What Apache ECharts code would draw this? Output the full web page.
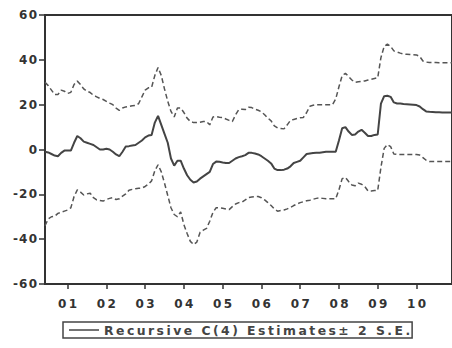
<!DOCTYPE html>
<html>
<head>
<meta charset="utf-8">
<script src="https://cdn.jsdelivr.net/npm/echarts@6/dist/echarts.min.js"></script>
<style>
  html, body { margin: 0; padding: 0; background: #ffffff; }
  #chart { width: 452px; height: 348px; }
</style>
</head>
<body>
<div id="chart"></div>
<script>
// Monthly periods, 2000M06 .. 2010M12
const startYear = 2000, startMonth = 6, periodCount = 127;
const periods = [];
for (let k = 0; k < periodCount; k++) {
  const m = startMonth - 1 + k;
  const y = startYear + Math.floor(m / 12);
  const mm = (m % 12) + 1;
  periods.push(y + 'M' + (mm < 10 ? '0' + mm : '' + mm));
}

// Recursive estimate of coefficient C(4)
const estimate = [
  -1, -1.3, -2, -2.7, -3, -1.5, -0.5, -0.5, -0.5, 3,
  6, 5, 3.5, 3, 2.5, 2, 1, 0, 0, 0.3,
  0, -1, -2.2, -3, -1, 1.3, 1.5, 1.8, 2, 3,
  4, 5.4, 6.2, 6.5, 12, 15, 11, 7, 3, -4,
  -7.2, -5, -5, -8.5, -11.5, -13.5, -14.7, -14.3, -13, -12,
  -11, -10, -6.5, -5.4, -5.5, -5.8, -6, -6, -5, -4,
  -3.4, -3, -2.5, -1.5, -1.5, -1.8, -2.2, -3, -4, -5,
  -6.2, -8.5, -9.2, -9.2, -9, -8.5, -7.5, -6, -5.5, -5,
  -3.5, -2, -1.8, -1.6, -1.5, -1.4, -1.2, -1, -1, -1,
  -1, 4, 9.5, 10, 8, 6.5, 6.7, 8, 8.8, 7.5,
  6, 6, 6.5, 6.7, 20.5, 23.8, 24, 23.5, 21, 20.5,
  20.5, 20.3, 20.2, 20.1, 20, 19.8, 19.2, 18, 17, 16.8,
  16.7, 16.6, 16.6, 16.5, 16.5, 16.5, 16.5
];

// Upper band: estimate + 2 S.E.
const upperBand = [
  30, 28.5, 26.5, 24.5, 24.5, 26.5, 26, 25, 25.5, 29,
  30.5, 29, 27, 26, 25.4, 24.2, 23.5, 22.8, 22.3, 21.5,
  20.7, 20, 18.5, 17.5, 18.5, 19, 19.2, 19.5, 19.6, 20.5,
  23.5, 26.5, 27.5, 27.7, 33, 36.6, 33, 27, 21.5, 17,
  14.5, 18.5, 18.5, 16.5, 14, 12.5, 12, 12, 12.2, 12.5,
  12.5, 11, 14.5, 14.7, 14.4, 14.3, 13.6, 13, 12.5, 15.5,
  17.8, 18, 17.8, 18.8, 18.7, 18, 17.5, 16.8, 15.5, 14,
  12.8, 10.5, 9.6, 9.4, 9.2, 11, 13, 13.4, 13.8, 14.2,
  14.3, 16.5, 19.3, 19.7, 20, 20, 20, 20, 20, 20,
  22.5, 28, 33, 34, 32.5, 31, 30, 30.2, 30.4, 30.6,
  31, 31.3, 31.7, 32, 41, 46, 47, 46, 44, 43.5,
  43, 42.6, 42.5, 42.4, 42.3, 42.2, 41.5, 39.5, 39, 38.8,
  38.8, 38.8, 38.7, 38.7, 38.7, 38.7, 38.7
];

// Lower band: estimate - 2 S.E.
const lowerBand = [
  -34, -31, -30, -29.8, -28.5, -28, -27.5, -27, -26, -21,
  -18, -19, -20.3, -19.8, -19.5, -21.5, -22.5, -22.8, -23, -22.3,
  -21.8, -21.5, -22.3, -22, -20.8, -19.8, -18.2, -17.8, -17.5, -17.3,
  -17.2, -16.5, -15.5, -14, -9.5, -6.8, -10, -15, -20.5, -26,
  -29, -30, -27.8, -33.5, -37.5, -41, -42.4, -41.3, -37, -36,
  -35.2, -32, -28, -26, -26, -26.2, -26.5, -26.8, -25.5, -24.3,
  -23.7, -23.5, -22.5, -21.4, -21.2, -21, -21, -21.5, -22.5, -23.7,
  -25, -26.5, -27.5, -27.2, -27, -26.5, -25.8, -25, -24.3, -23.7,
  -23.3, -22.9, -22.6, -22.2, -21.8, -21.6, -21.8, -22, -22, -22,
  -22, -18, -13, -12.5, -14.3, -15.8, -16.2, -15, -15.5, -16.5,
  -18.5, -18.5, -18.3, -18.3, -8, 0.5, 2.2, 1.3, -2, -2.2,
  -2.2, -2.2, -2.2, -2.2, -2.2, -2.2, -2.5, -3.6, -4.8, -5.4,
  -5.4, -5.4, -5.4, -5.4, -5.4, -5.4, -5.4
];

const yTicks = { min: -60, max: 60, step: 20 };
const legendText = 'Recursive C(4) Estimates\u00b1 2 S.E.';

// spread glyphs apart with thin spaces
const spaced = (s, sep) => String(s).split('').join(sep);

const ink = '#333333';
const labelFont = { color: '#333', fontFamily: 'DejaVu Sans', fontWeight: 'bold', fontSize: 12 };
const isJanuary = (idx, val) => /M01$/.test(val);

const chart = echarts.init(document.getElementById('chart'), null, { renderer: 'svg' });
chart.setOption({
  backgroundColor: '#ffffff',
  animation: false,
  // framed plot area; the right edge of the frame sits just past the canvas
  grid: {
    left: 45, right: -2, top: 15, bottom: 64, containLabel: false,
    show: true, borderColor: ink, borderWidth: 2, backgroundColor: 'transparent'
  },
  legend: {
    data: ['estimate'],
    left: 63, top: 322,
    icon: 'rect',
    formatter: () => spaced(legendText, '\u2009'),
    itemWidth: 30, itemHeight: 1.5, itemGap: 6,
    padding: [2, 2, 2, 6],
    borderColor: '#444', borderWidth: 1.5, borderRadius: 0,
    textStyle: Object.assign({}, labelFont, { fontSize: 12.4, color: '#444' })
  },
  xAxis: {
    type: 'category',
    data: periods,
    boundaryGap: false,
    axisLine: { show: true, onZero: false, lineStyle: { color: ink, width: 2 } },
    axisTick: { show: true, inside: false, length: 5, interval: isJanuary, lineStyle: { color: ink, width: 1.5 } },
    axisLabel: Object.assign({ interval: isJanuary, margin: 14, formatter: v => spaced(v.slice(2, 4), '\u2009') }, labelFont),
    splitLine: { show: false }
  },
  yAxis: {
    type: 'value',
    min: yTicks.min, max: yTicks.max, interval: yTicks.step,
    axisLine: { show: true, onZero: false, lineStyle: { color: ink, width: 2 } },
    axisTick: { show: true, inside: false, length: 6, lineStyle: { color: ink, width: 1.5 } },
    axisLabel: Object.assign({ margin: 8, formatter: v => spaced(v, '\u200a') }, labelFont),
    splitLine: { show: false }
  },
  series: [{
    name: 'estimate',
    type: 'line',
    data: estimate,
    showSymbol: false, symbol: 'none',
    lineStyle: { color: '#444', width: 2 },
    itemStyle: { color: '#444' }
  }, {
    name: 'upper',
    type: 'line',
    data: upperBand,
    showSymbol: false, symbol: 'none',
    lineStyle: { color: '#555', width: 1.5, type: [5, 3] }
  }, {
    name: 'lower',
    type: 'line',
    data: lowerBand,
    showSymbol: false, symbol: 'none',
    lineStyle: { color: '#555', width: 1.5, type: [5, 3] }
  }]
});
</script>
</body>
</html>
